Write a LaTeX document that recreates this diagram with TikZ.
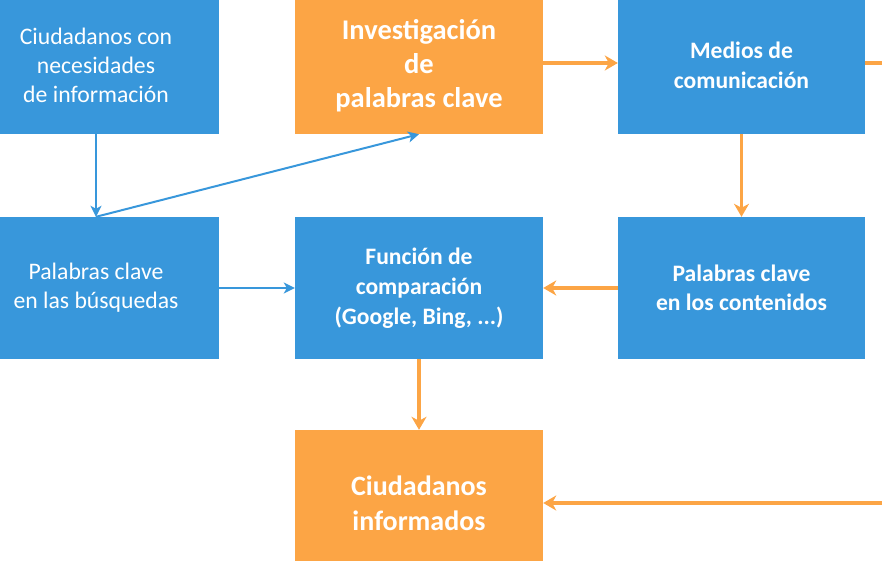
\documentclass[tikz,border=0pt]{standalone}
\usepackage{fontspec}
\setmainfont{Carlito}
\usepackage{tikz}
\usetikzlibrary{arrows,arrows.meta,positioning}
\definecolor{cajaazul}{HTML}{3897DB}
\definecolor{cajanaranja}{HTML}{FCA545}
\tikzset{
  caja/.style={fill=cajaazul, text=white, align=center, inner sep=0pt},
  cajan/.style={fill=cajanaranja, text=white, align=center, inner sep=0pt},
  flechaazul/.style={draw=cajaazul, line width=2pt, -{Stealth[length=11pt,width=11pt,inset=3pt]}},
  flechanaranja/.style={draw=cajanaranja, line width=3.4pt, -{Stealth[length=13pt,width=15pt,inset=4pt]}}
}

\begin{document}
\begin{tikzpicture}[x=1pt,y=-1pt]
\useasboundingbox (0,0) rectangle (882,561);
% fila de arriba
\node[caja, minimum width=246pt, minimum height=137pt, font=\fontsize{23.7}{29}\selectfont] (ciud) at (96,65.5) {Ciudadanos con\\necesidades\\de información};
\node[cajan, minimum width=248pt, minimum height=137pt, font=\fontsize{28.5}{34}\selectfont\bfseries] (inv) at (419,65.5) {Investigación\\de\\palabras clave};
\node[caja, minimum width=247pt, minimum height=137pt, font=\fontsize{23.6}{30}\selectfont\bfseries] (medios) at (741.5,65.5) {Medios de\\comunicación};
% fila del medio
\node[caja, minimum width=246pt, minimum height=142pt, font=\fontsize{23.7}{29}\selectfont] (busq) at (96,288) {Palabras clave\\en las búsquedas};
\node[caja, minimum width=248pt, minimum height=142pt, font=\fontsize{23.6}{30}\selectfont\bfseries] (func) at (419,288) {Función de\\comparación\\(Google, Bing, ...)};
\node[caja, minimum width=247pt, minimum height=142pt, font=\fontsize{23.6}{29}\selectfont\bfseries] (cont) at (741.5,288) {Palabras clave\\en los contenidos};
% abajo
\node[cajan, minimum width=248pt, minimum height=146pt, font=\fontsize{28}{35}\selectfont\bfseries] (info) at (419,503) {Ciudadanos\\informados};
\coordinate (sal) at (882,63);
\coordinate (ent) at (882,503);
% flechas
\draw[flechaazul] (ciud.south) -- (busq.north);
\draw[flechaazul] (busq.north) -- (inv.south);
\draw[flechaazul] (busq.east) -- (func.west);
\draw[flechanaranja] (inv.east |- sal) -- (medios.west |- sal);
\draw[draw=cajanaranja, line width=3.4pt] (medios.east |- sal) -- (sal);
\draw[flechanaranja] (medios.south) -- (cont.north);
\draw[flechanaranja] (cont.west) -- (func.east);
\draw[flechanaranja] (func.south) -- (info.north);
\draw[flechanaranja] (ent) -- (info.east |- ent);
\end{tikzpicture}
\end{document}
